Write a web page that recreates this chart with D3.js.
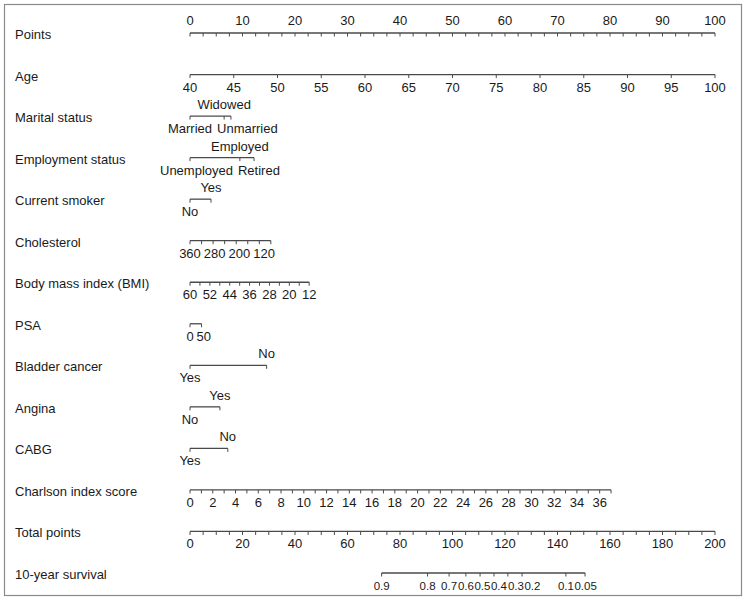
<!DOCTYPE html>
<html><head><meta charset="utf-8">
<script src="https://cdn.jsdelivr.net/npm/d3@7"></script>
<style>
body{margin:0;background:#fff;}
text{font-family:"Liberation Sans",Arial,Helvetica,sans-serif;font-size:13px;fill:#1a1a1a;}
text.surv{font-size:11.5px;}
</style></head>
<body><svg id="c" width="746" height="600"></svg>
<script>
// ---------- DATA ----------
const rowLabels = ["Points","Age","Marital status","Employment status","Current smoker","Cholesterol",
  "Body mass index (BMI)","PSA","Bladder cancer","Angina","CABG","Charlson index score","Total points","10-year survival"];

const pointsTicks = d3.range(0, 100.01, 2.5);
const pointsLabels = [0,10,20,30,40,50,60,70,80,90,100];

const ageDomain = [40, 100], agePoints = [0, 100];
const ageTicks = [40,45,50,55,60,65,70,75,80,85,90,95,100];

const maritalCats = ["Married","Widowed","Unmarried"];
const maritalPts  = [0, 6.5, 7.8];
const employCats = ["Unemployed","Employed","Retired"];
const employPts  = [0, 9.5, 12.2];
const smokerCats = ["No","Yes"];
const smokerPts  = [0, 4.0];

const cholDomain = [360, 80], cholPoints = [0, 15.4];
const cholTicks = [360,320,280,240,200,160,120,80];
const cholLabels = [360,280,200,120];

const bmiDomain = [60, 12], bmiPoints = [0, 22.7];
const bmiTicks = [60,56,52,48,44,40,36,32,28,24,20,16,12];
const bmiLabels = [60,52,44,36,28,20,12];

const psaDomain = [0, 50], psaPoints = [0, 2.2];
const psaTicks = [0, 50];
const psaLabels = [0, 50];

const bladderCats = ["Yes","No"];
const bladderPts  = [0, 14.6];
const anginaCats = ["No","Yes"];
const anginaPts  = [0, 5.7];
const cabgCats = ["Yes","No"];
const cabgPts  = [0, 7.2];

const charlDomain = [0, 37], charlPoints = [0, 80.2];
const charlTicks = d3.range(0, 37.01, 1);
const charlLabels = d3.range(0, 36.01, 2);

const totalTicks = d3.range(0, 200.01, 5);
const totalLabels = [0,20,40,60,80,100,120,140,160,180,200];

const survLabels = ["0.9","0.8","0.7","0.6","0.5","0.4","0.3","0.2","0.1","0.05"];
const survTotalPts = [73.0, 90.5, 98.7, 105.1, 110.5, 115.8, 121.1, 126.5, 143.2, 150.5];

// ---------- LAYOUT ----------
const svg = d3.select("#c");
const rowY = d3.scaleLinear().domain([0, 13]).range([33, 573]);
const px = d3.scaleLinear().domain([0, 100]).range([190, 715]);
const tpx = d3.scaleLinear().domain([0, 200]).range([190, 715]);
const lineCol = "#4a4a4a", tickLen = 3.5, labelMinX = 160;

svg.append("rect").attr("x",4.5).attr("y",4.5).attr("width",737).attr("height",591)
  .attr("fill","none").attr("stroke","#8a8a8a").attr("stroke-width",1.2);

svg.selectAll("text.row").data(rowLabels).join("text").attr("class","row")
  .attr("x",15).attr("y",(d,i)=>rowY(i)+6).text(d=>d);

function hline(y, x0, x1){
  svg.append("line").attr("x1",x0).attr("x2",x1).attr("y1",y).attr("y2",y)
    .attr("stroke",lineCol).attr("stroke-width",1.3);
}
function ticks(y, xs){
  svg.append("g").selectAll("line").data(xs).join("line")
    .attr("x1",d=>d).attr("x2",d=>d).attr("y1",y).attr("y2",y+tickLen)
    .attr("stroke",lineCol).attr("stroke-width",1);
}
// place labels left->right, nudging right when they would collide
function placeNoOverlap(sel, gap){
  let lastRight = -Infinity;
  sel.each(function(){
    const t = d3.select(this);
    let bb = this.getBBox();
    let shift = 0;
    if(bb.x < labelMinX) shift = labelMinX - bb.x;
    if(bb.x + shift < lastRight + gap) shift = lastRight + gap - bb.x;
    if(shift) t.attr("x", +t.attr("x") + shift);
    bb = this.getBBox();
    lastRight = bb.x + bb.width;
  });
}
function numAxis(row, scale, tks, labs, above){
  const y = rowY(row);
  const ext = d3.extent(tks.map(scale));
  hline(y, ext[0], ext[1]);
  ticks(y, tks.map(scale));
  const t = svg.append("g").selectAll("text").data(labs).join("text")
    .attr("x",d=>scale(d)).attr("y", above ? y-8 : y+17)
    .attr("text-anchor","middle").text(d=>d);
  if(!above) placeNoOverlap(t, 3);
}
function catAxis(row, cats, pts){
  const y = rowY(row);
  const xs = pts.map(px);
  hline(y, d3.min(xs), d3.max(xs));
  ticks(y, xs);
  const order = d3.range(cats.length).sort((a,b)=>pts[a]-pts[b]);
  const below = [];
  order.forEach((idx, k)=>{
    const above = k % 2 === 1;
    const t = svg.append("text").attr("x",xs[idx]).attr("y", above ? y-7 : y+17)
      .attr("text-anchor","middle").text(cats[idx]);
    if(!above) below.push(t.node());
  });
  placeNoOverlap(d3.selectAll(below), 5);
}

numAxis(0, px, pointsTicks, pointsLabels, true);
numAxis(1, d3.scaleLinear().domain(ageDomain).range(agePoints.map(px)), ageTicks, ageTicks, false);
catAxis(2, maritalCats, maritalPts);
catAxis(3, employCats, employPts);
catAxis(4, smokerCats, smokerPts);
numAxis(5, d3.scaleLinear().domain(cholDomain).range(cholPoints.map(px)), cholTicks, cholLabels, false);
numAxis(6, d3.scaleLinear().domain(bmiDomain).range(bmiPoints.map(px)), bmiTicks, bmiLabels, false);
numAxis(7, d3.scaleLinear().domain(psaDomain).range(psaPoints.map(px)), psaTicks, psaLabels, false);
catAxis(8, bladderCats, bladderPts);
catAxis(9, anginaCats, anginaPts);
catAxis(10, cabgCats, cabgPts);
numAxis(11, d3.scaleLinear().domain(charlDomain).range(charlPoints.map(px)), charlTicks, charlLabels, false);
numAxis(12, tpx, totalTicks, totalLabels, false);

// Survival
(function(){
  const y = rowY(13);
  const xs = survTotalPts.map(tpx);
  hline(y, d3.min(xs), d3.max(xs));
  ticks(y, xs);
  const t = svg.append("g").selectAll("text").data(survLabels).join("text").attr("class","surv")
    .attr("x",(d,i)=>xs[i]).attr("y",y+17).attr("text-anchor","middle").text(d=>d);
  placeNoOverlap(t, 0.5);
})();
</script></body></html>
